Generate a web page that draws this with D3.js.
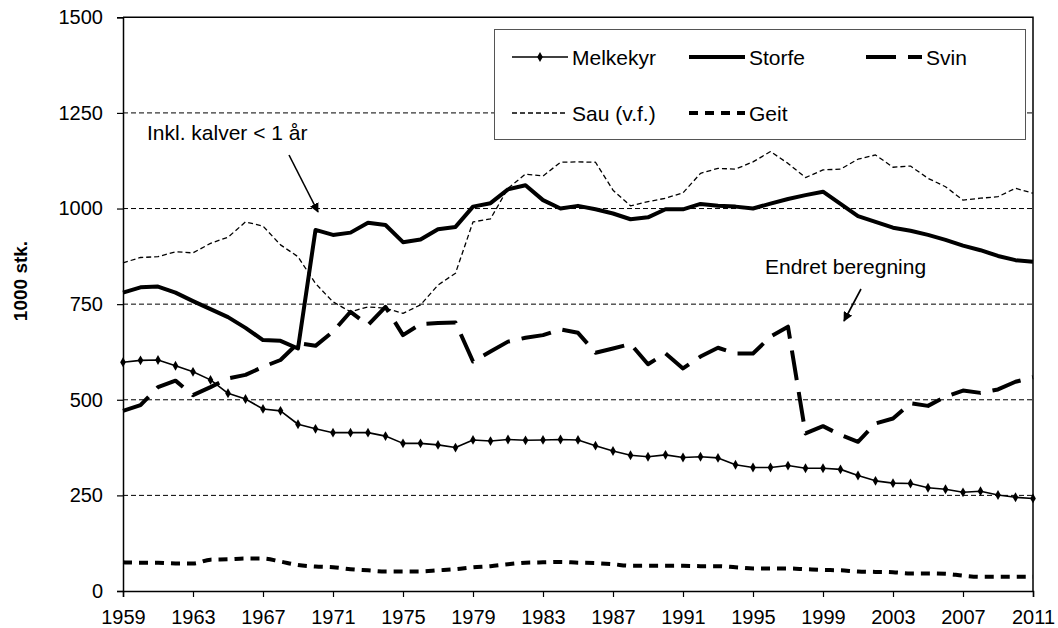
<!DOCTYPE html>
<html lang="no">
<head>
<meta charset="UTF-8">
<title>Husdyr 1959-2011</title>
<script src="https://d3js.org/d3.v7.min.js"></script>
<style>
body { margin: 0; background: #fff; }
svg text { font-family: "Liberation Sans", Arial, sans-serif; fill: #000; }
</style>
</head>
<body>
<svg id="chart" width="1058" height="628"></svg>
<script>
// years 1959 - 2011
var years = d3.range(1959, 2012);
var xTicks = [1959, 1963, 1967, 1971, 1975, 1979, 1983, 1987, 1991, 1995, 1999, 2003, 2007, 2011];
var yTicks = [0, 250, 500, 750, 1000, 1250, 1500];

var melkekyr = [598, 603, 604, 589, 573, 552, 517, 502, 476, 471,
    436, 424, 414, 414, 414, 405, 386, 386, 382, 375,
    395, 392, 396, 394, 395, 396, 395, 380, 366, 355,
    351, 356, 349, 351, 348, 330, 323, 323, 328, 321,
    321, 318, 302, 288, 282, 281, 270, 266, 258, 261,
    251, 245, 242];
var storfe = [780, 794, 796, 780, 758, 737, 716, 688, 656, 654,
    634, 944, 931, 937, 963, 957, 912, 919, 946, 952,
    1005, 1014, 1050, 1061, 1022, 1000, 1007, 998, 987, 972,
    977, 998, 998, 1012, 1007, 1005, 1000, 1013, 1025, 1035,
    1044, 1012, 980, 965, 950, 942, 931, 918, 903, 891,
    876, 865, 861];
var svin = [471, 486, 533, 550, 512, 533, 556, 565, 586, 604,
    648, 641, 678, 730, 695, 743, 669, 698, 701, 702,
    600, 626, 652, 662, 669, 684, 675, 623, 634, 646,
    593, 621, 582, 613, 636, 621, 621, 665, 691, 412,
    431, 408, 390, 438, 451, 491, 484, 508, 524, 518,
    527, 547, 559];
var sau = [858, 872, 874, 887, 884, 909, 925, 965, 954, 905,
    874, 804, 756, 730, 743, 739, 726, 748, 800, 831,
    965, 973, 1053, 1090, 1085, 1121, 1122, 1121, 1048, 1007,
    1018, 1027, 1041, 1092, 1105, 1103, 1122, 1149, 1118, 1081,
    1101, 1103, 1129, 1140, 1108, 1111, 1079, 1057, 1022, 1027,
    1031, 1053, 1040];
var geit = [75, 74, 74, 72, 72, 82, 83, 85, 85, 77,
    68, 64, 62, 57, 54, 51, 51, 51, 54, 57,
    62, 65, 70, 74, 75, 76, 74, 73, 70, 66,
    66, 66, 66, 65, 65, 62, 59, 59, 59, 57,
    55, 54, 51, 50, 49, 46, 46, 45, 40, 37,
    37, 37, 37];

(function() {
    var svg = d3.select('#chart');
    var pLeft = 123, pRight = 1033, pTop = 17.3, pBottom = 591;

    var x = d3.scaleLinear().domain([1959, 2011]).range([pLeft, pRight]);
    var y = d3.scaleLinear().domain([0, 1500]).range([pBottom, pTop]);

    // gridlines
    svg.append('g')
        .selectAll('line')
        .data(yTicks.filter(function(d) { return d > 0 && d < 1500; }))
        .enter()
        .append('line')
        .attr('x1', pLeft).attr('x2', pRight)
        .attr('y1', function(d) { return y(d); })
        .attr('y2', function(d) { return y(d); })
        .attr('stroke', '#000')
        .attr('stroke-width', 1)
        .attr('stroke-dasharray', '5,3');

    // plot border (top + right)
    svg.append('path')
        .attr('d', 'M' + pLeft + ',' + pTop + 'H' + pRight + 'V' + pBottom)
        .attr('fill', 'none')
        .attr('stroke', '#000')
        .attr('stroke-width', 1.5);

    // axes
    var yAxis = svg.append('g')
        .attr('transform', 'translate(' + pLeft + ',0)')
        .call(d3.axisLeft(y).tickValues(yTicks).tickFormat(d3.format('d')).tickSize(6).tickPadding(14));
    var xAxis = svg.append('g')
        .attr('transform', 'translate(0,' + pBottom + ')')
        .call(d3.axisBottom(x).tickValues(xTicks).tickFormat(d3.format('d')).tickSize(6).tickPadding(13));

    [yAxis, xAxis].forEach(function(a) {
        a.select('.domain').attr('stroke', '#000').attr('stroke-width', 1.5);
        a.selectAll('.tick line').attr('stroke', '#000').attr('stroke-width', 1.2);
        a.selectAll('.tick text')
            .attr('font-size', 20)
            .attr('font-family', '"Liberation Sans", Arial, sans-serif')
            .attr('fill', '#000');
    });

    svg.append('text')
        .attr('transform', 'translate(27,281) rotate(-90)')
        .attr('text-anchor', 'middle')
        .attr('font-size', 19)
        .attr('font-weight', 'bold')
        .text('1000 stk.');

    // series
    var series = [
        { name: 'Melkekyr', values: melkekyr, width: 1.6, dash: null, curve: d3.curveLinear, marker: true },
        { name: 'Storfe', values: storfe, width: 4, dash: null, curve: d3.curveLinear },
        { name: 'Svin', values: svin, width: 4, dash: '30,12', curve: d3.curveLinear },
        { name: 'Sau (v.f.)', values: sau, width: 1.3, dash: '5,3', curve: d3.curveLinear },
        { name: 'Geit', values: geit, width: 4, dash: '9,7', curve: d3.curveMonotoneX }
    ];

    series.forEach(function(s) {
        var line = d3.line()
            .x(function(d, i) { return x(years[i]); })
            .y(function(d) { return y(d); })
            .curve(s.curve);
        svg.append('path')
            .datum(s.values)
            .attr('d', line)
            .attr('fill', 'none')
            .attr('stroke', '#000')
            .attr('stroke-width', s.width)
            .attr('stroke-linejoin', 'round')
            .attr('stroke-dasharray', s.dash);
        if (s.marker) {
            svg.append('g')
                .selectAll('path')
                .data(s.values)
                .enter()
                .append('path')
                .attr('d', d3.symbol().type(d3.symbolDiamond).size(28))
                .attr('transform', function(d, i) {
                    return 'translate(' + x(years[i]) + ',' + y(d) + ')';
                })
                .attr('fill', '#000');
        }
    });

    // legend
    var legend = svg.append('g');
    legend.append('rect')
        .attr('x', 494.5).attr('y', 29.5)
        .attr('width', 531).attr('height', 110)
        .attr('fill', '#fff')
        .attr('stroke', '#555')
        .attr('stroke-width', 1);

    var legendPos = [[512, 57], [689, 57], [866, 57], [512, 113], [689, 113]];
    series.forEach(function(s, i) {
        var p = legendPos[i];
        var g = legend.append('g').attr('transform', 'translate(' + p[0] + ',' + p[1] + ')');
        g.append('line')
            .attr('x1', 0).attr('x2', 56)
            .attr('stroke', '#000')
            .attr('stroke-width', s.width)
            .attr('stroke-dasharray', s.dash);
        if (s.marker) {
            g.append('path')
                .attr('d', d3.symbol().type(d3.symbolDiamond).size(28))
                .attr('transform', 'translate(28,0)')
                .attr('fill', '#000');
        }
        g.append('text')
            .attr('x', 60)
            .attr('y', 7.5)
            .attr('font-size', 21)
            .text(s.name);
    });

    // annotations
    var defs = svg.append('defs');
    defs.append('marker')
        .attr('id', 'arrow')
        .attr('viewBox', '0 0 10 10')
        .attr('refX', 9).attr('refY', 5)
        .attr('markerWidth', 6).attr('markerHeight', 6)
        .attr('orient', 'auto')
        .append('path')
        .attr('d', 'M0,0L10,5L0,10z')
        .attr('fill', '#000');

    svg.append('text')
        .attr('x', 147).attr('y', 140)
        .attr('font-size', 21)
        .text('Inkl. kalver < 1 år');
    svg.append('line')
        .attr('x1', 289).attr('y1', 155)
        .attr('x2', 318).attr('y2', 212)
        .attr('stroke', '#000')
        .attr('stroke-width', 1.6)
        .attr('marker-end', 'url(#arrow)');

    svg.append('text')
        .attr('x', 765).attr('y', 274)
        .attr('font-size', 21)
        .text('Endret beregning');
    svg.append('line')
        .attr('x1', 861).attr('y1', 289)
        .attr('x2', 844).attr('y2', 321)
        .attr('stroke', '#000')
        .attr('stroke-width', 1.6)
        .attr('marker-end', 'url(#arrow)');
})();
</script>
</body>
</html>
